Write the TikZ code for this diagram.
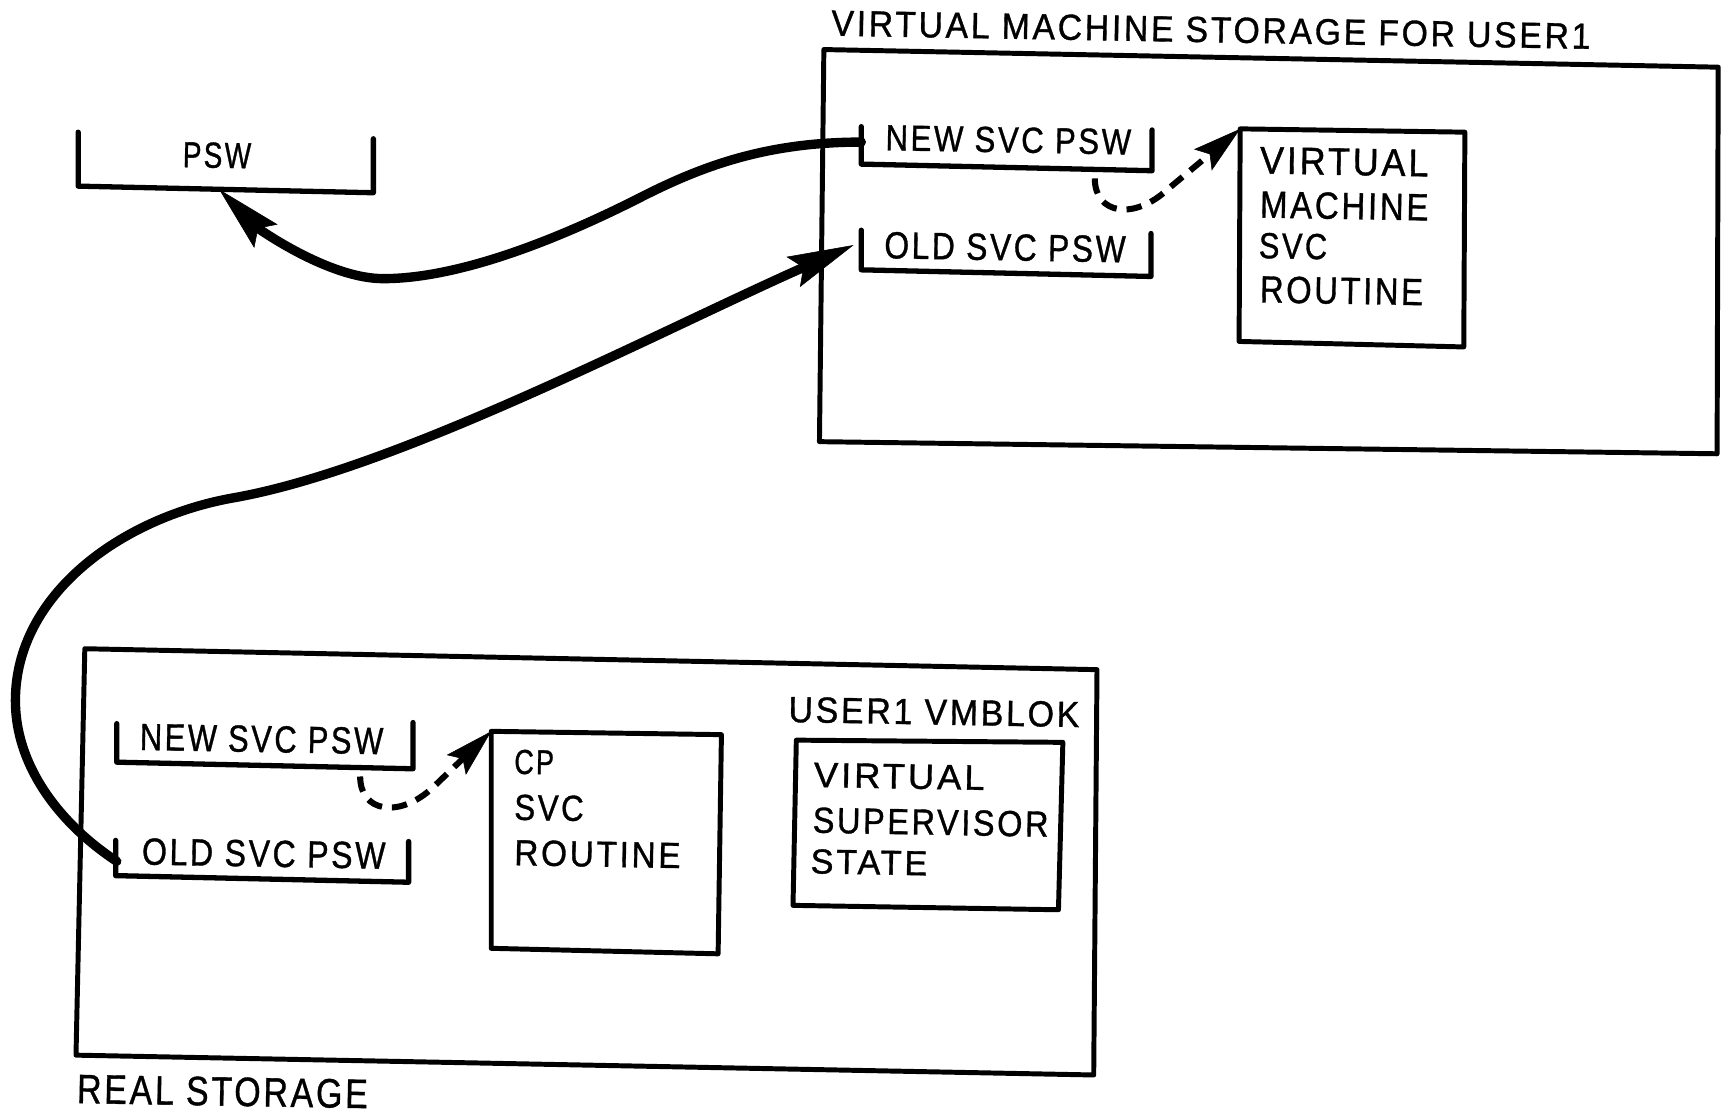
\documentclass[tikz,border=0pt]{standalone}
\usepackage{fontspec}
\setsansfont{Liberation Sans}[LetterSpace=8,FakeBold=1]
\usepackage{graphicx}
\usetikzlibrary{arrows.meta}
\newcommand\fitt[3]{\resizebox{#1pt}{#2pt}{\sffamily #3}}
\begin{document}
\begin{tikzpicture}[x=1pt,y=-1pt,
  box/.style={line width=4.5pt, line join=round},
  brk/.style={line width=4.8pt, line cap=round, line join=round},
  heavy/.style={line width=8.5pt, line cap=round},
  dsh/.style={line width=5.5pt, dash pattern=on 14pt off 9pt},
  txt/.style={inner sep=0pt, outer sep=0pt, rotate=-1},
  bigtip/.style={-{Stealth[length=60pt,width=30pt,inset=10pt,line width=0.5pt]}},
  smalltip/.style={-{Stealth[length=44pt,width=25pt,inset=8pt,line width=0.5pt]}}]
\useasboundingbox (0,0) rectangle (1568,1011);
\fill[white] (0,0) rectangle (1568,1011);

% ---------- corner coordinates ----------
\coordinate (vms-nw) at (748,45);  \coordinate (vms-ne) at (1560,61);
\coordinate (vms-se) at (1559,412);\coordinate (vms-sw) at (744,401);
\coordinate (vmr-nw) at (1126,117);\coordinate (vmr-ne) at (1330,120);
\coordinate (vmr-se) at (1329,315);\coordinate (vmr-sw) at (1125,310);
\coordinate (rs-nw) at (77,589);   \coordinate (rs-ne) at (996,608);
\coordinate (rs-se) at (993,976);  \coordinate (rs-sw) at (69,958);
\coordinate (cp-nw) at (446,664);  \coordinate (cp-ne) at (655,667);
\coordinate (cp-se) at (652,866);  \coordinate (cp-sw) at (446,861);
\coordinate (vb-nw) at (723,672);  \coordinate (vb-ne) at (965,674);
\coordinate (vb-se) at (961,826);  \coordinate (vb-sw) at (720,822);

% ---------- boxes ----------
\draw[box] (vms-nw) -- (vms-ne) -- (vms-se) -- (vms-sw) -- cycle;
\draw[box] (vmr-nw) -- (vmr-ne) -- (vmr-se) -- (vmr-sw) -- cycle;
\draw[box] (rs-nw) -- (rs-ne) -- (rs-se) -- (rs-sw) -- cycle;
\draw[box] (cp-nw) -- (cp-ne) -- (cp-se) -- (cp-sw) -- cycle;
\draw[box] (vb-nw) -- (vb-ne) -- (vb-se) -- (vb-sw) -- cycle;

% ---------- brackets ----------
\coordinate (psw-l) at (71,120);   \coordinate (psw-r) at (339,126);
\draw[brk] (psw-l) -- (71,169) -- (339,175) -- (psw-r);
\coordinate (vnew-l) at (782,115); \coordinate (vnew-r) at (1046,118);
\draw[brk] (vnew-l) -- (782,149) -- (1046,155) -- (vnew-r);
\coordinate (vold-l) at (782,209); \coordinate (vold-r) at (1045,212);
\draw[brk] (vold-l) -- (782,245) -- (1045,251) -- (vold-r);
\coordinate (rnew-l) at (106,657); \coordinate (rnew-r) at (375,656);
\draw[brk] (rnew-l) -- (106,692) -- (375,698) -- (rnew-r);
\coordinate (rold-l) at (105,763); \coordinate (rold-r) at (371,764);
\draw[brk] (rold-l) -- (105,795) -- (371,801) -- (rold-r);

% ---------- texts ----------
\node[txt] (tTitle) at (1099.5,27) {\fitt{689}{23}{VIRTUAL MACHINE STORAGE FOR USER1}};
\node[txt] (tPSW) at (197,141) {\fitt{62}{23}{PSW}};
\node[txt] (tVnew) at (915.5,127) {\fitt{223}{23}{NEW SVC PSW}};
\node[txt] (tVold) at (912.5,224.5) {\fitt{219}{24}{OLD SVC PSW}};
\node[txt] (tVr1) at (1220.5,147) {\fitt{153}{24}{VIRTUAL}};
\node[txt] (tVr2) at (1220.5,187) {\fitt{153}{24}{MACHINE}};
\node[txt] (tVr3) at (1174,223.5) {\fitt{62}{23}{SVC}};
\node[txt] (tVr4) at (1218,264) {\fitt{148}{24}{ROUTINE}};
\node[txt] (tRnew) at (237.5,671) {\fitt{221}{24}{NEW SVC PSW}};
\node[txt] (tRold) at (239.5,775) {\fitt{221}{24}{OLD SVC PSW}};
\node[txt] (tCp1) at (485,692) {\fitt{36}{22}{CP}};
\node[txt] (tCp2) at (498.5,733.5) {\fitt{63}{23}{SVC}};
\node[txt] (tCp3) at (542.5,775.5) {\fitt{151}{23}{ROUTINE}};
\node[txt] (tVmb) at (848,646.5) {\fitt{264}{23}{USER1 VMBLOK}};
\node[txt] (tVb1) at (816.5,705) {\fitt{155}{22}{VIRTUAL}};
\node[txt] (tVb2) at (845,746.5) {\fitt{214}{23}{SUPERVISOR}};
\node[txt] (tVb3) at (789,783) {\fitt{106}{22}{STATE}};
\node[txt] (tReal) at (202,991) {\fitt{264}{26}{REAL STORAGE}};

% ---------- connectors ----------
\coordinate (vnew-j) at (782,129);
\coordinate (psw-tip) at (199,172);
\draw[heavy,bigtip] (vnew-j) .. controls (692,129) and (633,153) .. (580,180)
  .. controls (509,216) and (418,253) .. (348,253)
  .. controls (298,253) and (234,207) .. (psw-tip);

\coordinate (rold-j) at (106,782);
\coordinate (vold-tip) at (775,222.5);
\draw[heavy,bigtip] (rold-j) .. controls (60,752) and (14,700) .. (14,636)
  .. controls (14,540) and (110,470) .. (212,452)
  .. controls (360,426) and (592,304) .. (vold-tip);

\coordinate (vnew-b) at (994,162);
\draw[dsh,smalltip] (vnew-b) .. controls (994,195) and (1030,200) .. (1060,172) -- (vmr-nw);

\coordinate (rnew-b) at (327,705);
\draw[dsh,smalltip] (rnew-b) .. controls (327,738) and (363,743) .. (393,715) -- (cp-nw);
\end{tikzpicture}
\end{document}
